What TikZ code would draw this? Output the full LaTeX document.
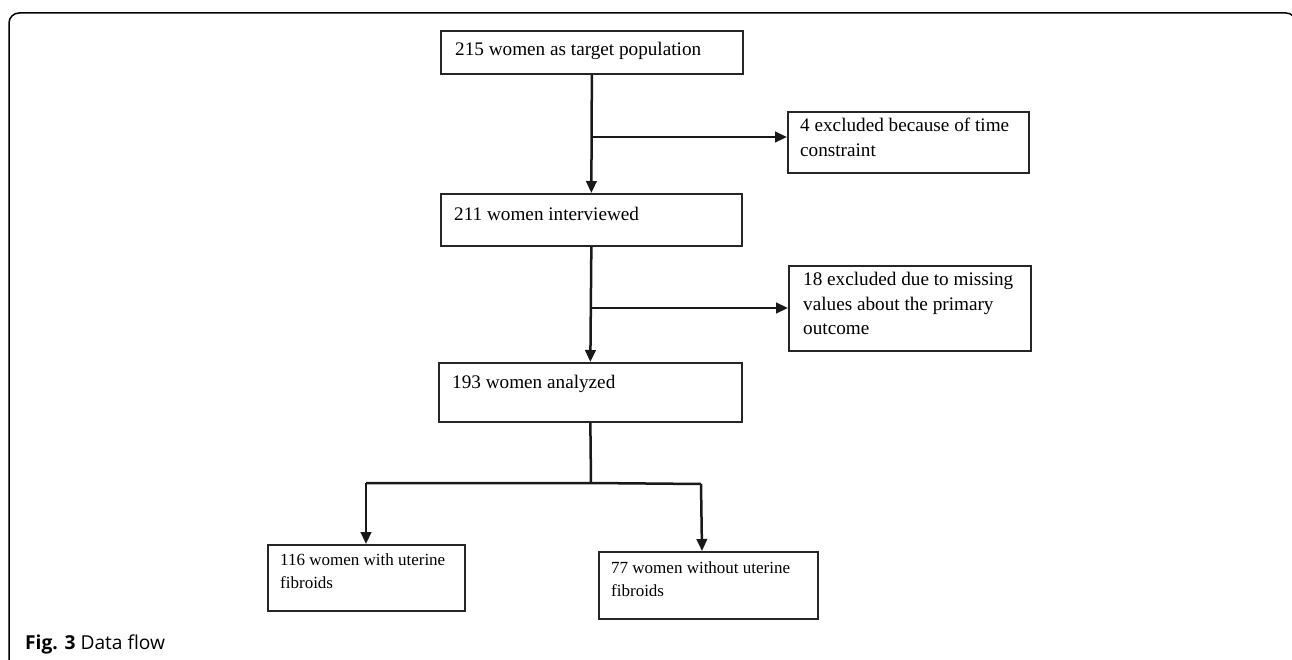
\documentclass[tikz,border=0pt]{standalone}
\usepackage{fontspec}
\setmainfont{Liberation Serif}
\newfontfamily\capfont{Open Sans}
\usetikzlibrary{arrows.meta}
\begin{document}
\begin{tikzpicture}[x=1pt,y=-1pt,
  flowbox/.style={draw=black!85,line width=1.7pt,rectangle,inner sep=0pt,anchor=north west},
  boxtext/.style={anchor=north west,inner sep=0pt,align=left,
    font=\fontsize{19.2}{24.5}\selectfont\strut},
  smalltext/.style={boxtext,font=\fontsize{17}{23}\selectfont\strut},
  link/.style={line width=2.5pt,draw=black!90},
  arr/.style={link,-{Triangle[length=12pt,width=10.5pt]}}]
\useasboundingbox (0,0) rectangle (1292,660);
% outer frame with rounded top corners
\begin{scope}
\clip (0,0) rectangle (1292,660);
\draw[line width=1.5pt,rounded corners=10pt] (9,680) -- (9,13) -- (1296,13) -- (1296,680);
\end{scope}
% boxes
\node[flowbox,minimum width=302pt,minimum height=43pt] (b1) at (440,30) {};
\node[flowbox,minimum width=241pt,minimum height=61pt] (b3) at (787,111) {};
\node[flowbox,minimum width=301pt,minimum height=52pt] (b2) at (440,193) {};
\node[flowbox,minimum width=242pt,minimum height=85pt] (b5) at (788,265) {};
\node[flowbox,minimum width=303pt,minimum height=59pt] (b4) at (438,362) {};
\node[flowbox,minimum width=197pt,minimum height=66pt] (b6) at (267,544) {};
\node[flowbox,minimum width=219pt,minimum height=67pt] (b7) at (598,551) {};
% box texts
\node[boxtext] (t1) at ([shift={(15,8)}]b1.north west) {215 women as target population};
\node[boxtext] (t3) at ([shift={(13,7)}]b3.north west) {4 excluded because of time\\constraint};
\node[boxtext] (t2) at ([shift={(14,10)}]b2.north west) {211 women interviewed};
\node[boxtext] (t5) at ([shift={(15,7)}]b5.north west) {18 excluded due to missing\\values about the primary\\outcome};
\node[boxtext] (t4) at ([shift={(14,9)}]b4.north west) {193 women analyzed};
\node[smalltext] (t6) at ([shift={(13,10)}]b6.north west) {116 women with uterine\\fibroids};
\node[smalltext] (t7) at ([shift={(13,10)}]b7.north west) {77 women without uterine\\fibroids};
% junction points
\coordinate (j1) at (591,137);
\coordinate (j2) at (591,308);
\coordinate (j3) at (591,483);
\coordinate (jl) at (366,483);
\coordinate (jr) at (701,484);
% connectors
\draw[arr] (b1.south) -- (b2.north);
\draw[arr] (j1) -- (j1 -| b3.west);
\draw[arr] (b2.south) -- (b4.north);
\draw[arr] (j2) -- (j2 -| b5.west);
\draw[link] (b4.south) -- (j3);
\draw[link] (jl) -- (j3) -- (jr);
\draw[arr] (jl) -- (jl |- b6.north);
\draw[arr] (jr) -- ([xshift=1pt]jr |- b7.north);
% caption
\node[anchor=base west,inner sep=0pt,font=\capfont\fontsize{19.2}{22}\selectfont] (cap) at (25,649) {\textbf{Fig. 3} Data flow};
\end{tikzpicture}
\end{document}
